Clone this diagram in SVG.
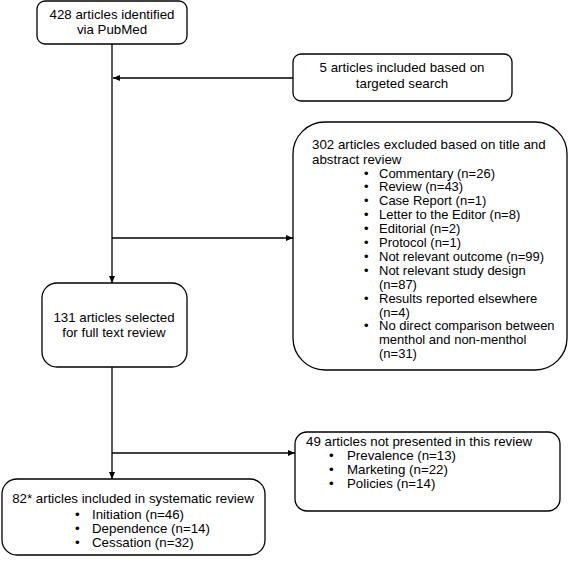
<svg xmlns="http://www.w3.org/2000/svg" width="568" height="564" viewBox="0 0 568 564">
<style>
.box{fill:#fff;stroke:#000;stroke-width:1.3}
.t{font-family:"Liberation Sans",Arial,sans-serif;font-size:13.3px;fill:#000}
.c{text-anchor:middle}
.sm{font-size:13px}
.ln{fill:none;stroke:#000;stroke-width:1.3}
</style>
<defs>
<marker id="ah" markerWidth="8" markerHeight="8" refX="7" refY="4" orient="auto" markerUnits="userSpaceOnUse">
<path d="M0,1 L7,4 L0,7 Z" fill="#000"/>
</marker>
</defs>
<rect width="568" height="564" fill="#fff"/>
<g id="connectors">
<line class="ln" x1="112" y1="44" x2="112" y2="283" marker-end="url(#ah)"/>
<line class="ln" x1="293" y1="78" x2="113" y2="78" marker-end="url(#ah)"/>
<line class="ln" x1="112" y1="238" x2="293" y2="238" marker-end="url(#ah)"/>
<line class="ln" x1="112" y1="367" x2="112" y2="479" marker-end="url(#ah)"/>
<line class="ln" x1="112" y1="453" x2="295" y2="453" marker-end="url(#ah)"/>
</g>
<g id="n1">
<rect class="box" x="37" y="1" width="150" height="43" rx="8"/>
<text class="t c" x="112" y="19">428 articles identified</text>
<text class="t c" x="112" y="34">via PubMed</text>
</g>
<g id="n2">
<rect class="box" x="293" y="54" width="219" height="47" rx="8"/>
<text class="t c" x="402" y="72">5 articles included based on</text>
<text class="t c" x="402" y="88">targeted search</text>
</g>
<g id="n3">
<rect class="box" x="293" y="122" width="274" height="248" rx="32"/>
<text class="t" x="312" y="149">302 articles excluded based on title and</text>
<text class="t" x="312" y="164">abstract review</text>
<g class="t sm">
<text x="364" y="177.5">•</text><text x="379" y="177.5">Commentary (n=26)</text>
<text x="364" y="191.4">•</text><text x="379" y="191.4">Review (n=43)</text>
<text x="364" y="205.3">•</text><text x="379" y="205.3">Case Report (n=1)</text>
<text x="364" y="219.2">•</text><text x="379" y="219.2">Letter to the Editor (n=8)</text>
<text x="364" y="233.1">•</text><text x="379" y="233.1">Editorial (n=2)</text>
<text x="364" y="247">•</text><text x="379" y="247">Protocol (n=1)</text>
<text x="364" y="260.9">•</text><text x="379" y="260.9">Not relevant outcome (n=99)</text>
<text x="364" y="274.8">•</text><text x="379" y="274.8">Not relevant study design</text>
<text x="379" y="288.7">(n=87)</text>
<text x="364" y="302.6">•</text><text x="379" y="302.6">Results reported elsewhere</text>
<text x="379" y="316.5">(n=4)</text>
<text x="364" y="330.4">•</text><text x="379" y="330.4">No direct comparison between</text>
<text x="379" y="344.3">menthol and non-menthol</text>
<text x="379" y="358.2">(n=31)</text>
</g>
</g>
<g id="n4">
<rect class="box" x="42" y="283" width="145" height="84" rx="15"/>
<text class="t c" x="114" y="322">131 articles selected</text>
<text class="t c" x="114" y="337">for full text review</text>
</g>
<g id="n5">
<rect class="box" x="2" y="479" width="263" height="76" rx="15"/>
<text class="t c" x="133" y="503">82* articles included in systematic review</text>
<g class="t">
<text x="75" y="519">•</text><text x="92" y="519">Initiation (n=46)</text>
<text x="75" y="533">•</text><text x="92" y="533">Dependence (n=14)</text>
<text x="75" y="547">•</text><text x="92" y="547">Cessation (n=32)</text>
</g>
</g>
<g id="n6">
<rect class="box" x="295" y="432" width="265" height="79" rx="12"/>
<text class="t" x="306" y="446">49 articles not presented in this review</text>
<g class="t">
<text x="329" y="460">•</text><text x="347" y="460">Prevalence (n=13)</text>
<text x="329" y="474">•</text><text x="347" y="474">Marketing (n=22)</text>
<text x="329" y="488">•</text><text x="347" y="488">Policies (n=14)</text>
</g>
</g>
</svg>
